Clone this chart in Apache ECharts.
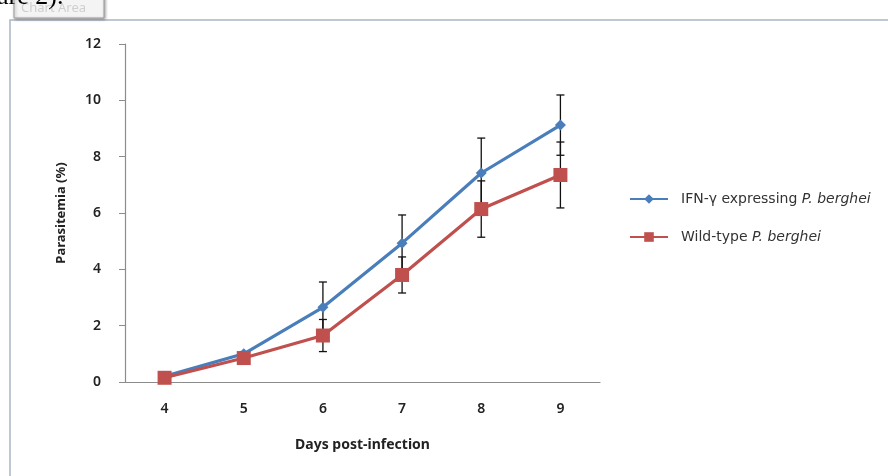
<!DOCTYPE html>
<html>
<head>
<meta charset="utf-8">
<script src="https://cdn.jsdelivr.net/npm/echarts@6/dist/echarts.min.js"></script>
<style>
  html, body { margin: 0; padding: 0; background: #fff; }
  #chart { width: 888px; height: 476px; }
</style>
</head>
<body>
<div id="chart"></div>
<script>
// days post-infection
var days = ['4', '5', '6', '7', '8', '9'];
// mean parasitemia (%)
var ifnValues = [0.2, 1.0, 2.65, 4.93, 7.42, 9.12];
var wildValues = [0.15, 0.85, 1.65, 3.8, 6.14, 7.35];
// error bar half widths
var ifnError = [0.05, 0.08, 0.9, 1.0, 1.24, 1.07];
var wildError = [0.05, 0.08, 0.57, 0.64, 1.0, 1.17];
var yTicks = [0, 2, 4, 6, 8, 10, 12];

var ifnName = 'IFN-γ expressing P. berghei';
var wildName = 'Wild-type P. berghei';

var myChart = echarts.init(document.getElementById('chart'));

function errData(vals, errs) {
  return vals.map(function (v, i) {
    return [i, v - errs[i], v + errs[i]];
  });
}

// 误差线
function renderError(params, api) {
  var x = api.value(0);
  var lo = api.coord([x, api.value(1)]);
  var hi = api.coord([x, api.value(2)]);
  var half = 4;
  var style = { stroke: '#111', lineWidth: 1.3 };
  return {
    type: 'group',
    children: [
      { type: 'line', shape: { x1: hi[0], y1: hi[1], x2: lo[0], y2: lo[1] }, style: style },
      { type: 'line', shape: { x1: hi[0] - half, y1: hi[1], x2: hi[0] + half, y2: hi[1] }, style: style },
      { type: 'line', shape: { x1: lo[0] - half, y1: lo[1], x2: lo[0] + half, y2: lo[1] }, style: style }
    ]
  };
}

var option = {
  animation: false,
  textStyle: { fontFamily: 'Noto Sans' },
  graphic: [
    {
      // chart area frame
      type: 'polyline',
      shape: { points: [[10, 476], [10, 20], [888, 20]] },
      style: { stroke: '#a9b7c6', lineWidth: 1.5, fill: null }
    },
    {
      type: 'rect',
      shape: { x: 14, y: -6, width: 90, height: 24 },
      style: { fill: '#f4f4f4', stroke: '#9a9a9a', lineWidth: 1, shadowBlur: 3, shadowColor: 'rgba(0,0,0,0.35)', shadowOffsetX: 1, shadowOffsetY: 1 }
    },
    {
      type: 'text',
      left: 21,
      top: 2,
      style: { text: 'Chart Area', font: '13px "Noto Sans"', fill: '#cfcfcf' }
    },
    {
      type: 'text',
      left: -3,
      top: -16,
      style: { text: 'are 2).', font: '26px "Liberation Serif"', fill: '#000' }
    }
  ],
  grid: { left: 125, right: 288, top: 44, bottom: 94 },
  legend: {
    orient: 'vertical',
    left: 624,
    top: 187,
    itemGap: 24,
    itemWidth: 38,
    itemHeight: 12,
    data: [ifnName, wildName],
    formatter: function (name) {
      return name === ifnName
        ? '{n|IFN-γ expressing }{i|P. berghei}'
        : '{n|Wild-type }{i|P. berghei}';
    },
    textStyle: {
      fontSize: 14,
      color: '#333',
      padding: [0, 0, 0, 8],
      rich: {
        n: { fontSize: 14, color: '#333', fontFamily: 'DejaVu Sans' },
        i: { fontSize: 14, color: '#333', fontStyle: 'italic', fontFamily: 'DejaVu Sans' }
      }
    }
  },
  xAxis: {
    type: 'category',
    data: days,
    name: 'Days post-infection',
    nameLocation: 'middle',
    nameGap: 56,
    nameTextStyle: { fontWeight: 'bold', fontSize: 14, color: '#222' },
    axisLine: { lineStyle: { color: '#8c8c8c', width: 1.2 } },
    axisTick: { alignWithLabel: true, length: 5, lineStyle: { color: '#8c8c8c' } },
    axisLabel: { color: '#222', fontSize: 14, fontWeight: 600, margin: 20 }
  },
  yAxis: {
    type: 'value',
    min: 0,
    max: 12,
    interval: 2,
    name: 'Parasitemia (%)',
    nameLocation: 'middle',
    nameGap: 57,
    nameTextStyle: { fontWeight: 'bold', fontSize: 13, color: '#222' },
    axisLine: { show: true, lineStyle: { color: '#8c8c8c', width: 1.2 } },
    axisTick: { show: true, length: 6, lineStyle: { color: '#8c8c8c' } },
    axisLabel: {
      color: '#222',
      fontSize: 14,
      fontWeight: 600,
      margin: 24,
      formatter: function (v) { return yTicks.indexOf(v) >= 0 ? String(v) : ''; }
    },
    splitLine: { show: false }
  },
  series: [
    {
      type: 'custom',
      name: 'ifnErr',
      renderItem: renderError,
      data: errData(ifnValues, ifnError),
      encode: { x: 0, y: [1, 2] },
      z: 2
    },
    {
      name: ifnName,
      type: 'line',
      data: ifnValues,
      symbol: 'diamond',
      symbolSize: 11,
      color: '#4a7ebb',
      lineStyle: { width: 3.2, color: '#4a7ebb' },
      itemStyle: { color: '#4a7ebb' },
      z: 3
    },
    {
      type: 'custom',
      name: 'wildErr',
      renderItem: renderError,
      data: errData(wildValues, wildError),
      encode: { x: 0, y: [1, 2] },
      z: 4
    },
    {
      name: wildName,
      type: 'line',
      data: wildValues,
      symbol: 'rect',
      symbolSize: 14,
      color: '#c0504d',
      lineStyle: { width: 3.2, color: '#c0504d' },
      itemStyle: { color: '#c0504d' },
      z: 5
    }
  ]
};

myChart.setOption(option);
</script>
</body>
</html>
